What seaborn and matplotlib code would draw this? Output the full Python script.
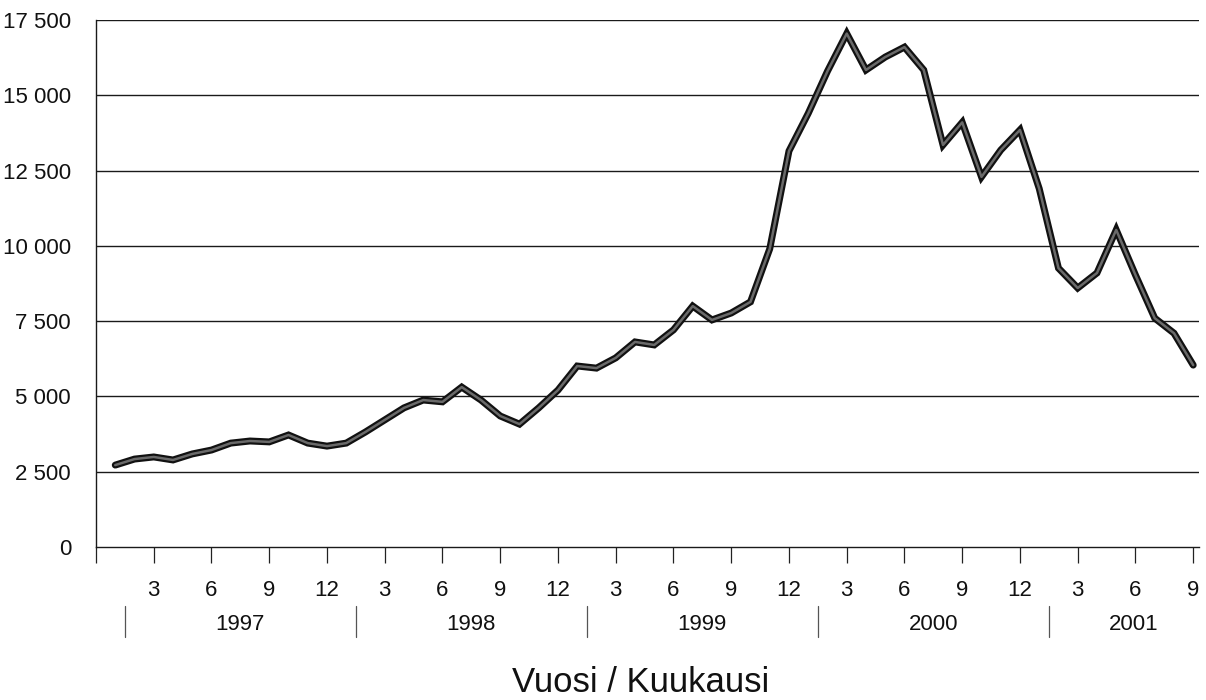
import numpy as np
import pandas as pd
import matplotlib
matplotlib.use("Agg")
import matplotlib.pyplot as plt
import matplotlib.transforms as mtransforms
import seaborn as sns

# monthly values, Jan 1997 .. Sep 2001
years = [1997, 1998, 1999, 2000, 2001]
values = [
    2720, 2920, 2990, 2890, 3090, 3220, 3450, 3520, 3490, 3720, 3450, 3350,   # 1997
    3450, 3820, 4220, 4620, 4880, 4820, 5310, 4880, 4350, 4080, 4620, 5210,   # 1998
    6010, 5940, 6280, 6810, 6710, 7210, 8000, 7540, 7770, 8140, 9900, 13150,  # 1999
    14400, 15800, 17050, 15840, 16270, 16600, 15840, 13350, 14100, 12290, 13180, 13850,  # 2000
    11900, 9260, 8600, 9100, 10530, 9030, 7600, 7100, 6040,                   # 2001
]
y_ticks = [0, 2500, 5000, 7500, 10000, 12500, 15000, 17500]
y_labels = ["0", "2 500", "5 000", "7 500", "10 000", "12 500", "15 000", "17 500"]
month_ticks = list(range(3, len(values) + 1, 3))
month_labels = [str((m - 1) % 12 + 1) for m in month_ticks]
x_title = "Vuosi / Kuukausi"

df = pd.DataFrame({"kk": np.arange(1, len(values) + 1), "arvo": values})

sns.set_theme(style="white")
plt.rcParams["font.family"] = ["Liberation Sans", "DejaVu Sans"]

fig = plt.figure(figsize=(12.06, 7.0), dpi=100)
ax = fig.add_axes([96 / 1206, 1 - 547 / 700, 1103 / 1206, 527 / 700])

xmax = 57.3
ax.set_xlim(0, xmax)
ax.set_ylim(0, 17500)

for t in y_ticks[1:]:
    ax.axhline(t, color="#1a1a1a", lw=1.0, zorder=1)

sns.lineplot(data=df, x="kk", y="arvo", ax=ax, color="#111111", lw=5.0,
             solid_joinstyle="miter", zorder=3)
sns.lineplot(data=df, x="kk", y="arvo", ax=ax, color="#6a6a6a", lw=1.8,
             zorder=4)

ax.set_yticks(y_ticks)
ax.set_yticklabels(y_labels, fontsize=16, color="#111111")
ax.tick_params(axis="y", length=0, pad=18)

ax.set_xticks([0] + month_ticks)
ax.set_xticklabels([""] + month_labels, fontsize=16, color="#111111")
ax.tick_params(axis="x", direction="out", length=11.5, width=0.9,
               color="#222222", pad=12, bottom=True)

ax.set_xlabel("")
ax.set_ylabel("")
for side in ["top", "right"]:
    ax.spines[side].set_visible(False)
for side in ["left", "bottom"]:
    ax.spines[side].set_color("#1a1a1a")
    ax.spines[side].set_linewidth(1.0)

# year separators and labels under month labels
trans = mtransforms.blended_transform_factory(ax.transData, ax.transAxes)
seps = [1.5 + 12 * k for k in range(len(years))]
for i, yr in enumerate(years):
    s = seps[i]
    ax.plot([s, s], [-0.112, -0.171], transform=trans, color="#555555",
            lw=0.9, clip_on=False)
    end = min(s + 12, xmax + 1)
    ax.text((s + end) / 2, -0.148, str(yr), transform=trans, ha="center",
            va="center", fontsize=16, color="#111111")

fig.text(0.531, 0.025, x_title, ha="center", va="center",
         fontsize=25, color="#111111")

fig.savefig("out.png", dpi=100, facecolor="white")
